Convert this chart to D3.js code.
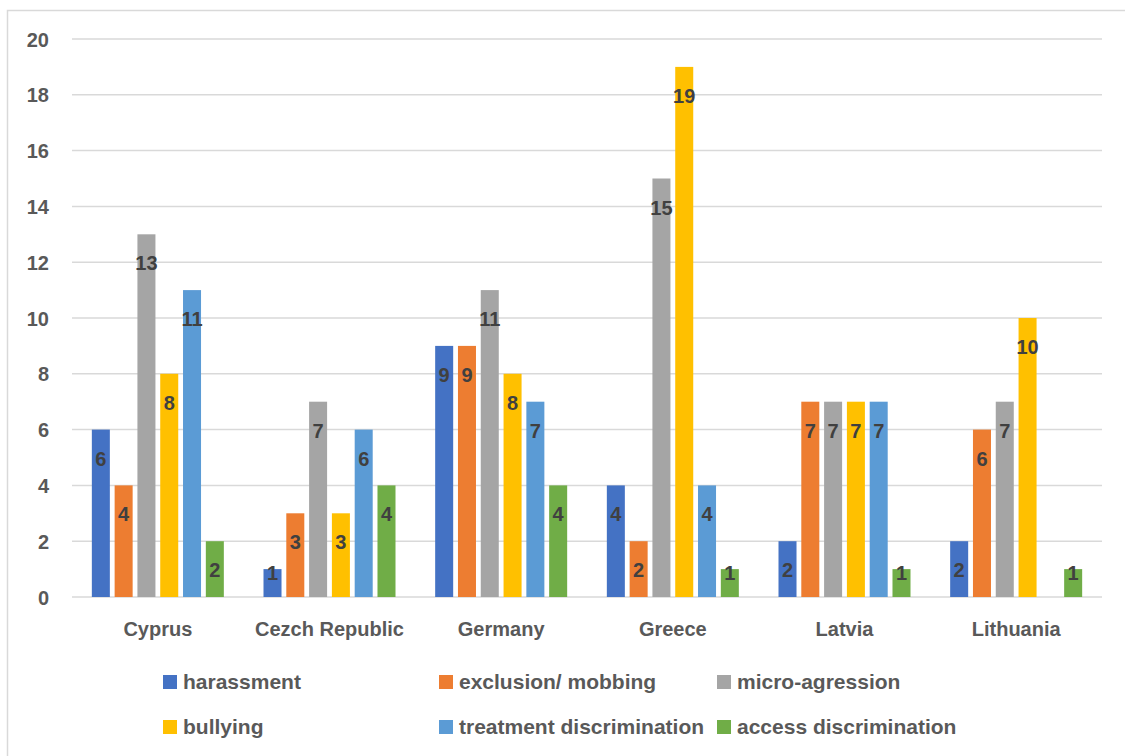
<!DOCTYPE html>
<html>
<head>
<meta charset="utf-8">
<script src="https://cdn.jsdelivr.net/npm/d3@7"></script>
<style>
  html, body { margin: 0; padding: 0; background: #fff; }
  svg { display: block; font-family: "Liberation Sans", Arial, sans-serif; font-weight: bold; }
</style>
</head>
<body>
<svg id="chart" width="1125" height="756"></svg>
<script>
const categories = ["Cyprus", "Cezch Republic", "Germany", "Greece", "Latvia", "Lithuania"];
const seriesNames = ["harassment", "exclusion/ mobbing", "micro-agression", "bullying", "treatment discrimination", "access discrimination"];
const harassment = [6, 1, 9, 4, 2, 2];
const exclusion = [4, 3, 9, 2, 7, 6];
const microAgression = [13, 7, 11, 15, 7, 7];
const bullying = [8, 3, 8, 19, 7, 10];
const treatment = [11, 6, 7, 4, 7, null];
const access = [2, 4, 4, 1, 1, 1];
const seriesValues = [harassment, exclusion, microAgression, bullying, treatment, access];
const colors = ["#4472C4", "#ED7D31", "#A5A5A5", "#FFC000", "#5B9BD5", "#70AD47"];
const yTicks = [0, 2, 4, 6, 8, 10, 12, 14, 16, 18, 20];

const svg = d3.select("#chart");

// chart border
svg.append("rect").attr("x", 7.5).attr("y", 10.5).attr("width", 1130).attr("height", 760)
  .attr("fill", "none").attr("stroke", "#d9d9d9").attr("stroke-width", 1.5);

const plotLeft = 72, plotRight = 1102, plotTop = 39, plotBottom = 597;
const y = d3.scaleLinear().domain([0, 20]).range([plotBottom, plotTop]);
const x0 = d3.scaleBand().domain(categories).range([plotLeft, plotRight]).padding(0);
const x1 = d3.scaleBand().domain(seriesNames).range([0, x0.bandwidth()]).paddingInner(0.21).paddingOuter(0.87);

// gridlines
svg.append("g").selectAll("line").data(yTicks).join("line")
  .attr("x1", plotLeft).attr("x2", plotRight)
  .attr("y1", d => y(d)).attr("y2", d => y(d))
  .attr("stroke", "#d9d9d9").attr("stroke-width", 1.5);

// y axis labels
const yAxis = d3.axisLeft(y).tickValues(yTicks).tickSize(0).tickPadding(0);
const gy = svg.append("g").attr("transform", "translate(49,0)").call(yAxis);
gy.select(".domain").remove();
gy.selectAll("text").attr("font-size", 20).attr("fill", "#595959")
  .attr("font-family", "Liberation Sans, Arial, sans-serif").attr("font-weight", "bold")
  .attr("dy", "0.35em");

// x axis labels
const xAxis = d3.axisBottom(x0).tickSize(0).tickPadding(0);
const gx = svg.append("g").attr("transform", "translate(0,636)").call(xAxis);
gx.select(".domain").remove();
gx.selectAll("text").attr("font-size", 20).attr("fill", "#595959")
  .attr("font-family", "Liberation Sans, Arial, sans-serif").attr("font-weight", "bold")
  .attr("dy", 0);

// bars
const data = [];
categories.forEach((c, ci) => {
  seriesNames.forEach((s, si) => {
    const v = seriesValues[si][ci];
    if (v !== null && v !== undefined) data.push({ c, s, si, v });
  });
});

svg.append("g").selectAll("rect").data(data).join("rect")
  .attr("x", d => x0(d.c) + x1(d.s))
  .attr("width", x1.bandwidth())
  .attr("y", d => y(d.v))
  .attr("height", d => y(0) - y(d.v))
  .attr("fill", d => colors[d.si]);

svg.append("g").selectAll("text").data(data).join("text")
  .attr("x", d => x0(d.c) + x1(d.s) + x1.bandwidth() / 2)
  .attr("y", d => Math.min(y(d.v) + 36, y(0) - 17))
  .attr("text-anchor", "middle")
  .attr("font-size", 20).attr("fill", "#404040")
  .text(d => d.v);

// legend
const legendPos = [
  { x: 163, y: 689 }, { x: 439, y: 689 }, { x: 717, y: 689 },
  { x: 163, y: 734 }, { x: 439, y: 734 }, { x: 717, y: 734 }
];
const lg = svg.append("g").selectAll("g").data(seriesNames).join("g")
  .attr("transform", (d, i) => `translate(${legendPos[i].x},${legendPos[i].y})`);
lg.append("rect").attr("x", 0).attr("y", -14).attr("width", 14).attr("height", 14)
  .attr("fill", (d, i) => colors[i]);
lg.append("text").attr("x", 20).attr("y", 0).attr("font-size", 21).attr("fill", "#595959")
  .text(d => d);
</script>
</body>
</html>
